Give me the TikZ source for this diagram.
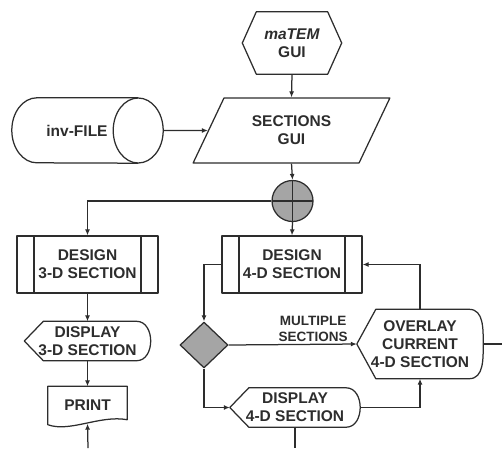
\documentclass[tikz,border=0pt]{standalone}
\usepackage{fontspec}
\setmainfont{Liberation Sans}
\definecolor{flowInk}{RGB}{45,45,45}
\definecolor{flowGray}{RGB}{165,165,165}
\usepackage{tikz}
\usetikzlibrary{arrows.meta,shapes.geometric,calc}

% outline of a display symbol: pointed left, rounded right
\newcommand{\dispoutline}[1]{%
  \draw[outl] (#1.west) -- ([xshift=19]#1.north west) -- ([xshift=-14]#1.north east)
    to[out=0,in=90] (#1.east) to[out=-90,in=0] ([xshift=-14]#1.south east)
    -- ([xshift=19]#1.south west) -- cycle;}

\begin{document}
\begin{tikzpicture}[x=1pt, y=1pt,
  txt/.style={font=\bfseries\fontsize{15.5}{18}\selectfont, align=center, inner sep=0pt,
              text=flowInk},
  outl/.style={line width=1.25pt, draw=flowInk, line join=round},
  arr/.style={-{Latex[length=6pt,width=5pt]}, line width=1.25pt, flowInk},
  wire/.style={line width=1.25pt, flowInk},
  design/.style={txt, outl, draw, minimum width=141, minimum height=57,
    path picture={
      \draw[outl] ([xshift=17]path picture bounding box.north west)
        -- ([xshift=17]path picture bounding box.south west)
        ([xshift=-17]path picture bounding box.north east)
        -- ([xshift=-17]path picture bounding box.south east);}},
  disp/.style={txt, minimum height=39},
  lbl/.style={font=\bfseries\fontsize{13.5}{15.5}\selectfont, align=center, inner sep=0pt,
              text=flowInk}
]
  \useasboundingbox (0,0) rectangle (502,-448);

  % top: GUI, file and sections
  \node[txt, minimum width=99, minimum height=62] (gui) at (292,-43)
    {\textit{maTEM}\\GUI};
  \draw[outl] (gui.west) -- ([xshift=14]gui.north west) -- ([xshift=-14]gui.north east)
    -- (gui.east) -- ([xshift=-14]gui.south east) -- ([xshift=14]gui.south west) -- cycle;
  \node[txt, outl, draw, trapezium, trapezium left angle=58, trapezium right angle=122,
        trapezium stretches=true, minimum width=197, minimum height=65] (sec) at (291.5,-130.5)
    {SECTIONS\\GUI};
  \node[txt, minimum width=151, minimum height=65] (file) at (87.5,-130.5)
    {inv-FILE\hspace*{21pt}};
  \draw[outl] ([xshift=-25]file.north east) -- ([xshift=25]file.north west)
    arc[start angle=90, end angle=270, x radius=25, y radius=32.5]
    -- ([xshift=-25]file.south east);
  \draw[outl] ([xshift=-25]file.east) ellipse[x radius=25, y radius=32.5];
  \node[circle, outl, draw, fill=flowGray, minimum size=41, inner sep=0pt,
    path picture={
      \draw[outl] (path picture bounding box.north) -- (path picture bounding box.south)
        (path picture bounding box.west) -- (path picture bounding box.east);}]
    (join) at (292.5,-201) {};

  % left branch
  \node[design] (d3) at (87.5,-264.5) {DESIGN\\3-D SECTION};
  \node[disp, minimum width=126] (disp3) at (87.5,-341) {DISPLAY\\3-D SECTION};
  \dispoutline{disp3}
  \node[txt, minimum width=79, minimum height=38] (prn) at (87.5,-405.5) {PRINT};
  \draw[outl] (prn.north west) -- (prn.north east) -- ([yshift=5]prn.south east)
    .. controls ([xshift=-27,yshift=10]prn.south east)
       and ([xshift=22,yshift=-8]prn.south west) .. (prn.south west) -- cycle;
  \coordinate (prnin) at (88,-448);

  % right branch
  \node[design, minimum width=140] (d4) at (292,-264.5) {DESIGN\\4-D SECTION};
  \node[diamond, outl, draw, fill=flowGray, minimum width=48, minimum height=46,
        inner sep=0pt] (dec) at (204,-345) {};
  \node[disp, minimum width=126, minimum height=69] (ovl) at (420,-344)
    {OVERLAY\\CURRENT\\4-D SECTION};
  \dispoutline{ovl}
  \node[disp, minimum width=130] (disp4) at (295,-407.5) {DISPLAY\\4-D SECTION};
  \dispoutline{disp4}
  \node[lbl] (multi) at (313,-329) {MULTIPLE\\SECTIONS};
  \coordinate (ovlout) at (502,-344);
  \coordinate (disp4out) at (295,-448);

  % connectors
  \draw[arr] (gui.south) -- (sec.north);
  \draw[arr] (file.east) -- (sec);
  \draw[arr] (sec.south) -- (join.north);
  \draw[arr] (join.west) -| (d3.north);
  \draw[arr] (join.south) -- (d4.north);
  \draw[arr] (d3.south) -- (disp3.north);
  \draw[arr] (disp3.south) -- (prn.north);
  \draw[arr] (prnin) -- ([yshift=1]prn.south);
  \draw[arr] (d4.west) -| (dec.north);
  \draw[arr] (dec.east) -- (ovl.west);
  \draw[arr] (dec.south) |- (disp4.west);
  \draw[arr] (disp4.east) -| (ovl.south);
  \draw[arr] (ovl.north) |- (d4.east);
  \draw[wire] (ovl.east) -- (ovlout);
  \draw[wire] (disp4.south) -- (disp4out);
\end{tikzpicture}
\end{document}
